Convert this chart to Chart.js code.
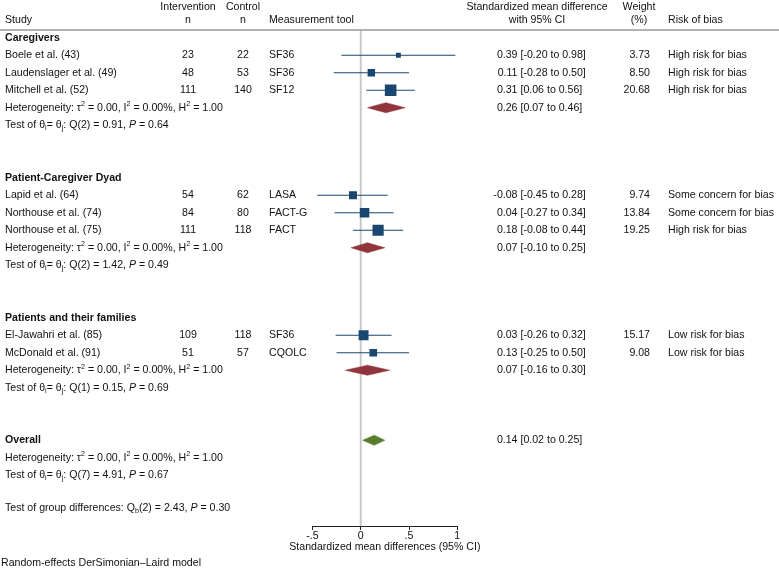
<!DOCTYPE html>
<html>
<head>
<meta charset="utf-8">
<script src="https://cdn.jsdelivr.net/npm/chart.js@4.4.0/dist/chart.umd.min.js"></script>
<style>
  html, body { margin: 0; padding: 0; background: #fff; }
  #wrap { width: 779px; height: 568px; }
</style>
</head>
<body>
<div id="wrap"><canvas id="forest"></canvas></div>
<script>
// study level data
const studies = ['Boele et al. (43)', 'Laudenslager et al. (49)', 'Mitchell et al. (52)',
  'Lapid et al. (64)', 'Northouse et al. (74)', 'Northouse et al. (75)',
  'El-Jawahri et al. (85)', 'McDonald et al. (91)'];
const studyGroup = [0, 0, 0, 1, 1, 1, 2, 2];
const nIntervention = [23, 48, 111, 54, 84, 111, 109, 51];
const nControl = [22, 53, 140, 62, 80, 118, 118, 57];
const tools = ['SF36', 'SF36', 'SF12', 'LASA', 'FACT-G', 'FACT', 'SF36', 'CQOLC'];
const smd = [0.39, 0.11, 0.31, -0.08, 0.04, 0.18, 0.03, 0.13];
const ciLow = [-0.20, -0.28, 0.06, -0.45, -0.27, -0.08, -0.26, -0.25];
const ciHigh = [0.98, 0.50, 0.56, 0.28, 0.34, 0.44, 0.32, 0.50];
const weights = [3.73, 8.50, 20.68, 9.74, 13.84, 19.25, 15.17, 9.08];
const bias = ['High risk for bias', 'High risk for bias', 'High risk for bias',
  'Some concern for bias', 'Some concern for bias', 'High risk for bias',
  'Low risk for bias', 'Low risk for bias'];

// subgroup / overall summaries
const groups = ['Caregivers', 'Patient-Caregiver Dyad', 'Patients and their families'];
const groupSmd = [0.26, 0.07, 0.07];
const groupLow = [0.07, -0.10, -0.16];
const groupHigh = [0.46, 0.25, 0.30];
const groupQdf = [2, 2, 1];
const groupQ = [0.91, 1.42, 0.15];
const groupP = [0.64, 0.49, 0.69];
const overallSmd = 0.14, overallLow = 0.02, overallHigh = 0.25;
const overallQdf = 7, overallQ = 4.91, overallP = 0.67;
const groupDiffDf = 2, groupDiffQ = 2.43, groupDiffP = 0.30;

// axis
const xTicks = [-0.5, 0, 0.5, 1];
const xTickLabels = ['-.5', '0', '.5', '1'];
const xTitle = 'Standardized mean differences (95% CI)';

const FONT = '"Liberation Sans", Arial, Helvetica, sans-serif';
const FS = 10.6;
const navy = 'rgb(26,71,111)';
const maroon = 'rgb(144,53,59)';
const green = 'rgb(88,124,44)';
const ink = '#111';

// row layout
const studyRow = [], groupRow = [], hetRow = [], testRow = [];
let r = 0;
groups.forEach((g, gi) => {
  groupRow.push(r); r++;
  studyGroup.forEach((sg, i) => { if (sg === gi) { studyRow[i] = r; r++; } });
  hetRow.push(r); testRow.push(r + 1); r += 4;
});
const overallRow = r, overallHetRow = r + 1, overallTestRow = r + 2;
const groupTestRow = r + 3.85, noteRow = r + 7;
const yMin = -0.44, yMax = 27.9;

const f2 = v => v.toFixed(2);

// datasets
const squares = {
  type: 'scatter',
  data: smd.map((v, i) => ({ x: v, y: studyRow[i] })),
  pointStyle: 'rect',
  pointRadius: weights.map(w => 2.55 * Math.sqrt(w) / Math.SQRT2),
  backgroundColor: navy,
  borderWidth: 0
};
const ciSets = smd.map((v, i) => ({
  type: 'line',
  data: [{ x: ciLow[i], y: studyRow[i] }, { x: ciHigh[i], y: studyRow[i] }],
  borderColor: navy,
  borderWidth: 1.1,
  pointRadius: 0
}));
function diamond(est, lo, hi, row, color) {
  return {
    type: 'line',
    data: [{ x: lo, y: row }, { x: est, y: row - 0.29 }, { x: hi, y: row },
      { x: est, y: row + 0.29 }, { x: lo, y: row }],
    borderColor: color,
    backgroundColor: color,
    borderWidth: 0.5,
    fill: 'shape',
    pointRadius: 0,
    tension: 0
  };
}
const diamonds = groups.map((g, gi) => diamond(groupSmd[gi], groupLow[gi], groupHigh[gi], hetRow[gi], maroon));
diamonds.push(diamond(overallSmd, overallLow, overallHigh, overallRow, green));
const zeroLine = {
  type: 'line',
  data: [{ x: 0, y: yMin }, { x: 0, y: yMax }],
  borderColor: '#c8c8c8',
  borderWidth: 2,
  pointRadius: 0
};

// rich text: _{sub} ^{sup} *italic*
function parseRich(s) {
  const runs = [];
  let buf = '', italic = false, i = 0;
  while (i < s.length) {
    const c = s[i];
    if ((c === '_' || c === '^') && s[i + 1] === '{') {
      if (buf) runs.push({ t: buf, italic });
      buf = '';
      const end = s.indexOf('}', i);
      runs.push({ t: s.slice(i + 2, end), mode: c === '_' ? 'sub' : 'sup', italic });
      i = end + 1;
      continue;
    }
    if (c === '*') {
      if (buf) runs.push({ t: buf, italic });
      buf = ''; italic = !italic; i++;
      continue;
    }
    buf += c; i++;
  }
  if (buf) runs.push({ t: buf, italic });
  return runs;
}
function runFont(run, bold) {
  const size = run.mode ? 7.2 : FS;
  return (run.italic ? 'italic ' : '') + (bold ? 'bold ' : '') + size + 'px ' + FONT;
}
function drawText(ctx, s, x, y, align, bold) {
  const runs = parseRich(s);
  let total = 0;
  runs.forEach(run => { ctx.font = runFont(run, bold); run.w = ctx.measureText(run.t).width; total += run.w; });
  let cx = align === 'right' ? x - total : align === 'center' ? x - total / 2 : x;
  ctx.textAlign = 'left';
  ctx.textBaseline = 'middle';
  runs.forEach(run => {
    ctx.font = runFont(run, bold);
    const dy = run.mode === 'sub' ? 3 : run.mode === 'sup' ? -3.5 : 0;
    ctx.fillText(run.t, cx, y + dy);
    cx += run.w;
  });
}

const COL = { study: 5, nInt: 188, nCtl: 243, tool: 269, est: 517.5, ci: 537, weight: 650, wHead: 639, bias: 668 };

const tablePlugin = {
  id: 'table',
  afterDraw(chart) {
    const ctx = chart.ctx;
    const ys = chart.scales.y;
    const area = chart.chartArea;
    const Y = row => ys.getPixelForValue(row);
    ctx.save();
    ctx.fillStyle = ink;

    // header
    drawText(ctx, 'Intervention', COL.nInt, Y(-1.75), 'center');
    drawText(ctx, 'Control', COL.nCtl, Y(-1.75), 'center');
    drawText(ctx, 'Standardized mean difference', COL.ci, Y(-1.75), 'center');
    drawText(ctx, 'Weight', COL.wHead, Y(-1.75), 'center');
    drawText(ctx, 'Study', COL.study, Y(-1.02), 'left');
    drawText(ctx, 'n', COL.nInt, Y(-1.02), 'center');
    drawText(ctx, 'n', COL.nCtl, Y(-1.02), 'center');
    drawText(ctx, 'Measurement tool', COL.tool, Y(-1.02), 'left');
    drawText(ctx, 'with 95% CI', COL.ci, Y(-1.02), 'center');
    drawText(ctx, '(%)', COL.wHead, Y(-1.02), 'center');
    drawText(ctx, 'Risk of bias', COL.bias, Y(-1.02), 'left');

    ctx.strokeStyle = '#999';
    ctx.lineWidth = 1.5;
    ctx.beginPath();
    ctx.moveTo(0, area.top);
    ctx.lineTo(chart.width, area.top);
    ctx.stroke();

    const estText = (est, lo, hi, y) => {
      drawText(ctx, f2(est), COL.est, y, 'right');
      drawText(ctx, ' [' + f2(lo) + ' to ' + f2(hi) + ']', COL.est, y, 'left');
    };

    studies.forEach((s, i) => {
      const y = Y(studyRow[i]);
      drawText(ctx, s, COL.study, y, 'left');
      drawText(ctx, String(nIntervention[i]), COL.nInt, y, 'center');
      drawText(ctx, String(nControl[i]), COL.nCtl, y, 'center');
      drawText(ctx, tools[i], COL.tool, y, 'left');
      estText(smd[i], ciLow[i], ciHigh[i], y);
      drawText(ctx, f2(weights[i]), COL.weight, y, 'right');
      drawText(ctx, bias[i], COL.bias, y, 'left');
    });

    const het = 'Heterogeneity: τ^{2} = 0.00, I^{2} = 0.00%, H^{2} = 1.00';
    groups.forEach((g, gi) => {
      drawText(ctx, g, COL.study, Y(groupRow[gi]), 'left', true);
      drawText(ctx, het, COL.study, Y(hetRow[gi]), 'left');
      estText(groupSmd[gi], groupLow[gi], groupHigh[gi], Y(hetRow[gi]));
      drawText(ctx, 'Test of θ_{i}= θ_{j}: Q(' + groupQdf[gi] + ') = ' + f2(groupQ[gi]) + ', *P* = ' + f2(groupP[gi]),
        COL.study, Y(testRow[gi]), 'left');
    });

    drawText(ctx, 'Overall', COL.study, Y(overallRow), 'left', true);
    estText(overallSmd, overallLow, overallHigh, Y(overallRow));
    drawText(ctx, het, COL.study, Y(overallHetRow), 'left');
    drawText(ctx, 'Test of θ_{i}= θ_{j}: Q(' + overallQdf + ') = ' + f2(overallQ) + ', *P* = ' + f2(overallP),
      COL.study, Y(overallTestRow), 'left');
    drawText(ctx, 'Test of group differences: Q_{b}(' + groupDiffDf + ') = ' + f2(groupDiffQ) + ', *P* = ' + f2(groupDiffP),
      COL.study, Y(groupTestRow), 'left');

    // axis title, centred under the plot region
    drawText(ctx, xTitle, (area.left + area.right) / 2, area.bottom + 21, 'center');
    drawText(ctx, 'Random-effects DerSimonian–Laird model', 1, Y(noteRow), 'left');
    ctx.restore();
  }
};

Chart.defaults.font.family = FONT;
Chart.defaults.font.size = FS;
Chart.defaults.color = ink;

new Chart(document.getElementById('forest'), {
  type: 'scatter',
  data: { datasets: [squares, ...diamonds, ...ciSets, zeroLine] },
  options: {
    responsive: true,
    maintainAspectRatio: false,
    animation: false,
    events: [],
    layout: { padding: { left: 312.4, right: 779 - 457.3, top: 30, bottom: 22 } },
    plugins: { legend: { display: false }, tooltip: { enabled: false } },
    scales: {
      x: {
        type: 'linear',
        min: -0.5,
        max: 1,
        afterBuildTicks: axis => { axis.ticks = xTicks.map(v => ({ value: v })); },
        ticks: {
          autoSkip: false,
          maxRotation: 0,
          padding: 0,
          color: ink,
          callback: (v) => xTickLabels[xTicks.indexOf(v)]
        },
        grid: { drawOnChartArea: false, drawTicks: true, tickLength: 4, color: '#222', lineWidth: 1 },
        border: { display: true, color: '#222', width: 1 },
        afterFit: axis => { axis.height = 20; }
      },
      y: { type: 'linear', display: false, reverse: true, min: yMin, max: yMax }
    }
  },
  plugins: [tablePlugin]
});
</script>
</body>
</html>
